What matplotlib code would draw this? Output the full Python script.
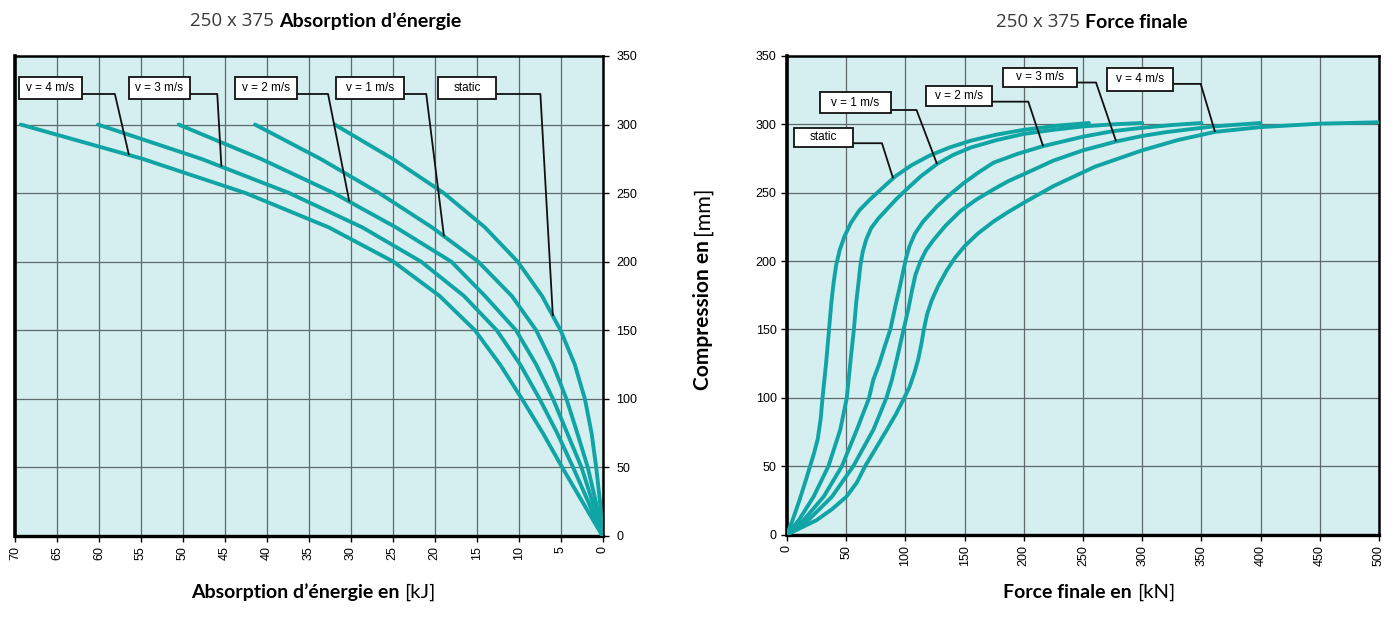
import numpy as np
import matplotlib
matplotlib.use('Agg')
import matplotlib.pyplot as plt
from matplotlib.patches import Rectangle

# ---------------- data: energy absorption (left) ----------------
energy_mm = [0, 25, 50, 75, 100, 125, 150, 175, 200, 225, 250, 275, 300]
energy_static = [0, 0.3, 0.75, 1.3, 2.1, 3.3, 5.0, 7.2, 10.1, 14.0, 18.9, 25.0, 31.9]
energy_v1 = [0, 0.8, 1.75, 3.0, 4.3, 5.9, 7.9, 10.8, 14.8, 20.3, 26.6, 33.6, 41.4]
energy_v2 = [0, 1.2, 2.5, 4.2, 5.9, 7.9, 10.3, 14.0, 18.0, 24.6, 32.0, 40.7, 50.5]
energy_v3 = [0, 1.7, 3.5, 5.4, 7.5, 9.8, 12.6, 16.5, 21.6, 28.6, 37.3, 47.8, 60.1]
energy_v4 = [0, 2.4, 4.8, 7.1, 9.6, 12.2, 15.2, 19.4, 24.9, 32.6, 42.5, 54.8, 69.3]

# ---------------- data: end force (right) ----------------
force_static_kn = [0, 4.5, 10.5, 16, 19.5, 23, 26, 28.5, 30, 33, 35.5, 37.5, 39.5, 41.5, 44.5, 48.5,
                   54, 61, 70, 80, 91.5, 105, 120, 137, 155, 177, 200, 228, 255]
force_static_mm = [0, 10, 25, 40, 50, 60, 70, 85, 100, 125, 150, 170, 185, 197, 208, 218,
                   228, 237, 245, 253, 262, 270, 277, 283, 288, 292.5, 296, 299, 301]
force_v1_kn = [0, 10, 22.5, 35, 45, 50.5, 54, 56.5, 58.5, 60.5, 62, 64, 67, 71, 77, 84.5, 92,
               101, 113, 126.7, 140, 155, 177, 200, 225, 250, 275, 300]
force_v1_mm = [0, 10.5, 27.7, 50, 76.7, 100, 130, 150, 170, 185, 197, 207, 216, 224, 231, 238, 245,
               252.5, 262, 271, 277.5, 283, 288.5, 293, 296, 298.5, 300, 301]
force_v2_kn = [0, 14, 31, 46.4, 59, 69, 73, 78, 82.5, 87.3, 91.5, 95, 98, 100.5, 103.5, 108, 115,
               126.7, 138, 149.8, 162, 174.5, 195, 216, 250, 275, 300, 325, 350]
force_v2_mm = [0, 10.5, 27.7, 50, 76.7, 99, 113.5, 125, 137.5, 150, 167, 180, 192, 202, 211, 220, 229,
               240, 249, 257.4, 265, 272, 278.5, 284, 291, 295, 297.5, 299.5, 301]
force_v3_kn = [0, 18, 38, 56, 73, 84, 88.7, 93.5, 98.5, 102.5, 105.6, 108.5, 112.6, 117.5, 123.9,
               134, 146.4, 160, 174.5, 187, 199.9, 225, 250, 278, 300, 320, 360, 400]
force_v3_mm = [0, 10.5, 27.7, 50, 76.7, 100, 113.5, 131, 150, 165, 178.7, 190, 199.6, 208, 215.6,
               226, 236.5, 245, 252.5, 258.5, 263.5, 273.5, 281, 287.5, 291.5, 294.3, 298.5, 301]
force_v4_kn = [0, 12, 25, 38, 50, 59, 66, 75, 84.4, 92, 98.5, 103.5, 107.5, 110.8, 113.4, 115.6, 118.3,
               122.3, 127.8, 135.1, 142, 149.8, 161, 174.5, 187, 199.9, 225.2, 260, 300, 330, 361.5,
               400, 450, 500]
force_v4_mm = [0, 5, 10.5, 18.5, 27.5, 38, 50, 63, 76.7, 88, 99, 108, 118, 128, 139, 150, 161,
               171.4, 182, 193.5, 202.5, 210.7, 220, 229, 236, 242.6, 254.9, 269, 281, 288.5, 294.5,
               298, 300.5, 301.5]

series_labels = ['static', 'v = 1 m/s', 'v = 2 m/s', 'v = 3 m/s', 'v = 4 m/s']
energy_ticks = list(range(0, 75, 5))
force_ticks = list(range(0, 550, 50))
mm_ticks = list(range(0, 400, 50))

# ---------------- styling ----------------
BG = '#d5eef0'
CURVE = '#11a4a4'
GRID = '#5f6a6a'
W, H = 1393, 621
fig = plt.figure(figsize=(W / 100, H / 100), dpi=100)
fig.patch.set_facecolor('white')

def px_rect(x0, y0, x1, y1):
    return [x0 / W, 1 - y1 / H, (x1 - x0) / W, (y1 - y0) / H]

axL = fig.add_axes(px_rect(15, 56, 602.5, 536))
axR = fig.add_axes(px_rect(787, 56, 1379, 534.5))

for ax in (axL, axR):
    ax.set_facecolor(BG)
    ax.grid(True, color=GRID, linewidth=0.9)
    ax.set_axisbelow(True)
    for s in ax.spines.values():
        s.set_linewidth(1.8)
        s.set_color('black')
    ax.tick_params(length=4, width=1, color='black', labelsize=9)

# left chart
axL.set_xlim(70, 0)
axL.set_ylim(0, 350)
axL.set_xticks(energy_ticks)
axL.set_yticks(mm_ticks)
axL.yaxis.tick_right()
axL.spines['left'].set_linewidth(2.6)
axL.spines['bottom'].set_linewidth(2.4)
for lab in axL.get_xticklabels():
    lab.set_rotation(90)
    lab.set_fontfamily('Liberation Sans')
for lab in axL.get_yticklabels():
    lab.set_fontfamily('Liberation Sans')
axL.tick_params(axis='y', pad=6)

energy_series = [energy_static, energy_v1, energy_v2, energy_v3, energy_v4]
for e in energy_series:
    axL.plot(e, energy_mm, color=CURVE, linewidth=2.8, solid_capstyle='round',
             solid_joinstyle='round', zorder=3)

# right chart
axR.set_xlim(0, 500)
axR.set_ylim(0, 350)
axR.set_xticks(force_ticks)
axR.set_yticks(mm_ticks)
axR.spines['left'].set_linewidth(2.6)
axR.spines['bottom'].set_linewidth(2.4)
for lab in axR.get_xticklabels():
    lab.set_rotation(90)
    lab.set_fontfamily('Liberation Sans')
for lab in axR.get_yticklabels():
    lab.set_fontfamily('Liberation Sans')

force_series = [(force_static_kn, force_static_mm), (force_v1_kn, force_v1_mm),
                (force_v2_kn, force_v2_mm), (force_v3_kn, force_v3_mm),
                (force_v4_kn, force_v4_mm)]
for kn, mm in force_series:
    axR.plot(kn, mm, color=CURVE, linewidth=2.8, solid_capstyle='round',
             solid_joinstyle='round', zorder=3)

# ---------------- callouts ----------------
def px_scale(ax):
    pos = ax.get_position()
    x0, x1 = ax.get_xlim()
    y0, y1 = ax.get_ylim()
    return abs(x1 - x0) / (pos.width * W), abs(y1 - y0) / (pos.height * H)

def callout(ax, label, cx, cy, wpx, hpx, elbow_y, elbow_x, end_x, end_y):
    sx, sy = px_scale(ax)
    w, h = wpx * sx, hpx * sy
    x0, x1 = ax.get_xlim()
    edge = cx + w / 2 if x1 > x0 else cx - w / 2   # box side facing pixel-right
    ax.plot([edge, elbow_x, end_x], [elbow_y, elbow_y, end_y], color='#111111',
            linewidth=1.3, zorder=4, solid_capstyle='butt')
    ax.add_patch(Rectangle((cx - w / 2, cy - h / 2), w, h, facecolor='white',
                           edgecolor='#111111', linewidth=1.3, zorder=5))
    ax.text(cx, cy, label, ha='center', va='center', fontsize=8.5,
            family='Liberation Sans', zorder=6)

left_layout = [  # label index, box center kJ, box center mm, w px, h px, elbow mm, elbow-end kJ, end mm
    (4, 65.8, 326.7, 63, 22, 322.3, 58.1, 277.8),
    (3, 52.8, 326.7, 61, 22, 322.3, 45.9, 269.3),
    (2, 40.1, 326.7, 62, 22, 322.3, 32.7, 243.8),
    (1, 27.7, 326.7, 68, 22, 322.3, 21.0, 218.6),
    (0, 16.1, 326.7, 58, 22, 322.3, 7.4, 160.4),
]
for idx, cx, cy, wpx, hpx, ey, ex, end_mm in left_layout:
    end_kj = float(np.interp(end_mm, energy_mm, energy_series[idx]))
    callout(axL, series_labels[idx], cx, cy, wpx, hpx, ey, ex, end_kj, end_mm)

right_layout = [  # label index, box center kN, box center mm, w px, h px, elbow mm, elbow-end kN, end kN
    (0, 30.5, 290.4, 59, 19, 286.2, 80.2, 89.6),
    (1, 57.9, 315.7, 71, 21, 310.5, 109.4, 126.7),
    (2, 145.1, 320.8, 66, 20, 316.6, 203.8, 216.3),
    (3, 214.0, 334.5, 74, 19, 330.6, 261.0, 278.0),
    (4, 298.5, 333.1, 66, 23, 329.6, 349.4, 361.5),
]
for idx, cx, cy, wpx, hpx, ey, ex, end_kn in right_layout:
    kn, mm = force_series[idx]
    end_mm = float(np.interp(end_kn, kn, mm))
    callout(axR, series_labels[idx], cx, cy, wpx, hpx, ey, ex, end_kn, end_mm)

# ---------------- titles and labels ----------------
renderer = fig.canvas.get_renderer()

def two_part(x_px, y_px, parts, gap=5):
    x = x_px
    for txt, kw in parts:
        t = fig.text(x / W, 1 - y_px / H, txt, ha='left', va='center', **kw)
        bb = t.get_window_extent(renderer=renderer)
        x = bb.x1 + gap

GRAYT = dict(family='Open Sans', size=13.5, color='#3a3a3a')
BOLDT = dict(family='Lato', size=14, weight='bold', color='black')
two_part(190, 21, [('250 x 375', GRAYT), ('Absorption d’énergie', BOLDT)])
two_part(996, 22, [('250 x 375', GRAYT), ('Force finale', BOLDT)])

BOLDL = dict(family='Lato', size=14, weight='bold', color='black')
REGL = dict(family='Lato', size=14.5, color='black')
two_part(191, 592, [('Absorption d’énergie en', BOLDL), ('[kJ]', REGL)])
two_part(1003, 592, [('Force finale en', BOLDL), ('[kN]', REGL)])

BOLDY = dict(family='Lato', size=15, weight='bold', color='black')
REGY = dict(family='Lato', size=15.5, color='black')
t1 = fig.text(703 / W, 1 - 390 / H, 'Compression en', rotation=90, ha='center', va='bottom', **BOLDY)
bb = t1.get_window_extent(renderer=renderer)
fig.text(703 / W, (bb.y1 + 5) / H, '[mm]', rotation=90, ha='center', va='bottom', **REGY)

fig.savefig('out.png', dpi=100, facecolor='white')
